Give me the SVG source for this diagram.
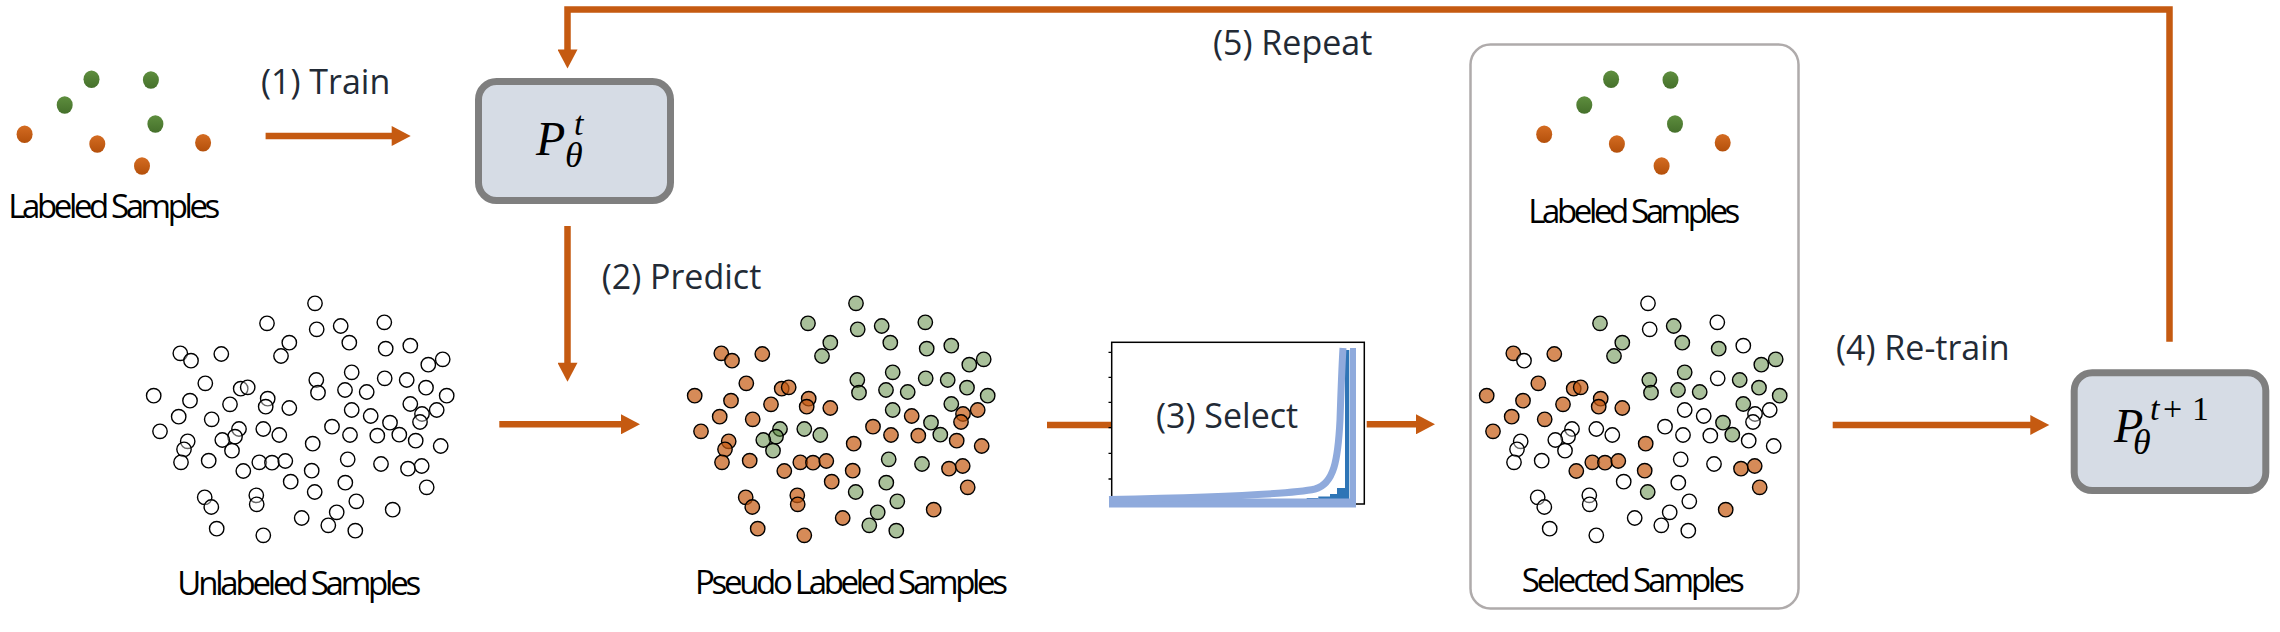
<svg xmlns="http://www.w3.org/2000/svg" width="2280" height="632" viewBox="0 0 2280 632">
<style>
.u{fill:#fff;fill-opacity:.4;stroke:#000;stroke-width:1.4}
.o{fill:#C55A11;fill-opacity:.7;stroke:#000;stroke-width:1.4}
.g{fill:#548235;fill-opacity:.5;stroke:#000;stroke-width:1.4}
.do{fill:url(#gro)}
.dg{fill:url(#grg)}
.lbl{font-family:"Open Sans","Liberation Sans",sans-serif;font-size:34px;fill:#222A35}
.cap{font-family:"Open Sans","Liberation Sans",sans-serif;font-size:33px;fill:#000}
.math{font-family:"Liberation Serif","DejaVu Serif",serif;fill:#000}
.it{font-style:italic}
.box{fill:#D6DCE5;stroke:#7F7F7F;stroke-width:7}
.conn{fill:none;stroke:#C55A11;stroke-width:6.5}
.lb{fill:none;stroke:#8FAADC}
</style>
<defs>
<linearGradient id="gro" x1="0" y1="0" x2="0" y2="1"><stop offset="0" stop-color="#D46C22"/><stop offset="1" stop-color="#B4500B"/></linearGradient>
<linearGradient id="grg" x1="0" y1="0" x2="0" y2="1"><stop offset="0" stop-color="#5E8E3E"/><stop offset="1" stop-color="#45702B"/></linearGradient>
<marker id="ah" markerUnits="userSpaceOnUse" markerWidth="20" markerHeight="20" viewBox="0 0 19 20" refX="1" refY="10" orient="auto"><path d="M0,0 L19,10 L0,20 z" fill="#C55A11"/></marker>
<g id="dots">
<ellipse class="dg" cx="91.5" cy="79.3" rx="8" ry="8.8"/>
<ellipse class="dg" cx="150.9" cy="80" rx="8" ry="8.8"/>
<ellipse class="dg" cx="64.7" cy="105" rx="8" ry="8.8"/>
<ellipse class="dg" cx="155.4" cy="124" rx="8" ry="8.8"/>
<ellipse class="do" cx="24.6" cy="134.3" rx="8" ry="8.8"/>
<ellipse class="do" cx="97.3" cy="144" rx="8" ry="8.8"/>
<ellipse class="do" cx="142" cy="166" rx="8" ry="8.8"/>
<ellipse class="do" cx="203.1" cy="142.7" rx="8" ry="8.8"/>
</g>
</defs>
<rect width="2280" height="632" fill="#fff"/>

<g id="connectors">
<path class="conn" d="M265.6,136 H392.7" marker-end="url(#ah)"/>
<path class="conn" d="M2169.5,341.7 V9.5 H567.5 V50.5" marker-end="url(#ah)"/>
<path class="conn" d="M567.5,226 V363.7" marker-end="url(#ah)"/>
<path class="conn" d="M499.3,424.3 H622" marker-end="url(#ah)"/>
<path class="conn" d="M1047,425 H1111"/>
<path class="conn" d="M1366.7,424.3 H1417" marker-end="url(#ah)"/>
<path class="conn" d="M1832.7,425 H2031.3" marker-end="url(#ah)"/>
</g>

<g id="edge-labels">
<text class="lbl" x="261" y="94.3">(1) Train</text>
<text class="lbl" x="601.7" y="289.3">(2) Predict</text>
<text class="lbl" x="1836" y="360">(4) Re-train</text>
<text class="lbl" x="1213" y="55">(5) Repeat</text>
</g>

<g id="labeled-samples">
<use href="#dots"/>
<text class="cap" x="8.3" y="217.7" textLength="212">Labeled Samples</text>
</g>

<g id="model-t">
<rect class="box" x="478.5" y="81.5" width="192" height="119" rx="18"/>
<text class="math it" x="536" y="155" font-size="48">P<tspan x="574" y="135" font-size="34">t</tspan><tspan x="565" y="167" font-size="36">θ</tspan></text>
</g>

<g id="unlabeled-samples">
<g id="pts">
<circle class="u" cx="315.0" cy="303.3" r="7.2"/>
<circle class="u" cx="267.0" cy="323.3" r="7.2"/>
<circle class="u" cx="316.7" cy="329.3" r="7.2"/>
<circle class="u" cx="340.7" cy="326.0" r="7.2"/>
<circle class="u" cx="384.3" cy="322.3" r="7.2"/>
<circle class="u" cx="289.3" cy="342.7" r="7.2"/>
<circle class="u" cx="281.0" cy="356.0" r="7.2"/>
<circle class="u" cx="349.3" cy="342.7" r="7.2"/>
<circle class="u" cx="385.7" cy="348.7" r="7.2"/>
<circle class="u" cx="410.3" cy="345.7" r="7.2"/>
<circle class="u" cx="180.3" cy="353.3" r="7.2"/>
<circle class="u" cx="191.0" cy="360.7" r="7.2"/>
<circle class="u" cx="221.3" cy="354.0" r="7.2"/>
<circle class="u" cx="428.3" cy="364.7" r="7.2"/>
<circle class="u" cx="442.7" cy="359.3" r="7.2"/>
<circle class="u" cx="205.3" cy="383.3" r="7.2"/>
<circle class="u" cx="316.3" cy="380.0" r="7.2"/>
<circle class="u" cx="318.0" cy="392.7" r="7.2"/>
<circle class="u" cx="351.7" cy="372.3" r="7.2"/>
<circle class="u" cx="384.7" cy="378.3" r="7.2"/>
<circle class="u" cx="406.7" cy="380.0" r="7.2"/>
<circle class="u" cx="426.0" cy="387.7" r="7.2"/>
<circle class="u" cx="446.7" cy="395.7" r="7.2"/>
<circle class="u" cx="153.7" cy="395.7" r="7.2"/>
<circle class="u" cx="190.0" cy="400.7" r="7.2"/>
<circle class="u" cx="240.7" cy="388.7" r="7.2"/>
<circle class="u" cx="247.7" cy="387.3" r="7.2"/>
<circle class="u" cx="267.7" cy="398.7" r="7.2"/>
<circle class="u" cx="265.7" cy="406.7" r="7.2"/>
<circle class="u" cx="230.0" cy="404.3" r="7.2"/>
<circle class="u" cx="289.3" cy="408.0" r="7.2"/>
<circle class="u" cx="345.0" cy="390.0" r="7.2"/>
<circle class="u" cx="366.7" cy="392.0" r="7.2"/>
<circle class="u" cx="410.3" cy="404.0" r="7.2"/>
<circle class="u" cx="436.7" cy="410.0" r="7.2"/>
<circle class="u" cx="422.0" cy="414.0" r="7.2"/>
<circle class="u" cx="420.0" cy="422.0" r="7.2"/>
<circle class="u" cx="178.7" cy="416.7" r="7.2"/>
<circle class="u" cx="211.7" cy="419.3" r="7.2"/>
<circle class="u" cx="351.7" cy="410.0" r="7.2"/>
<circle class="u" cx="370.7" cy="416.0" r="7.2"/>
<circle class="u" cx="390.0" cy="422.7" r="7.2"/>
<circle class="u" cx="160.0" cy="431.3" r="7.2"/>
<circle class="u" cx="239.0" cy="429.0" r="7.2"/>
<circle class="u" cx="235.0" cy="436.7" r="7.2"/>
<circle class="u" cx="222.3" cy="440.0" r="7.2"/>
<circle class="u" cx="232.0" cy="450.7" r="7.2"/>
<circle class="u" cx="263.3" cy="429.0" r="7.2"/>
<circle class="u" cx="279.3" cy="435.0" r="7.2"/>
<circle class="u" cx="332.0" cy="426.7" r="7.2"/>
<circle class="u" cx="350.0" cy="435.0" r="7.2"/>
<circle class="u" cx="377.3" cy="435.7" r="7.2"/>
<circle class="u" cx="399.3" cy="434.7" r="7.2"/>
<circle class="u" cx="415.7" cy="440.7" r="7.2"/>
<circle class="u" cx="187.7" cy="441.3" r="7.2"/>
<circle class="u" cx="184.0" cy="449.3" r="7.2"/>
<circle class="u" cx="181.0" cy="462.3" r="7.2"/>
<circle class="u" cx="208.7" cy="460.7" r="7.2"/>
<circle class="u" cx="243.3" cy="471.0" r="7.2"/>
<circle class="u" cx="259.3" cy="462.3" r="7.2"/>
<circle class="u" cx="272.0" cy="462.7" r="7.2"/>
<circle class="u" cx="285.3" cy="461.0" r="7.2"/>
<circle class="u" cx="312.7" cy="443.7" r="7.2"/>
<circle class="u" cx="347.7" cy="459.3" r="7.2"/>
<circle class="u" cx="381.0" cy="464.0" r="7.2"/>
<circle class="u" cx="408.0" cy="468.7" r="7.2"/>
<circle class="u" cx="421.7" cy="466.0" r="7.2"/>
<circle class="u" cx="440.7" cy="446.0" r="7.2"/>
<circle class="u" cx="311.7" cy="470.7" r="7.2"/>
<circle class="u" cx="290.7" cy="481.7" r="7.2"/>
<circle class="u" cx="314.7" cy="492.0" r="7.2"/>
<circle class="u" cx="345.3" cy="482.7" r="7.2"/>
<circle class="u" cx="426.7" cy="487.3" r="7.2"/>
<circle class="u" cx="204.7" cy="497.3" r="7.2"/>
<circle class="u" cx="211.3" cy="507.0" r="7.2"/>
<circle class="u" cx="256.3" cy="495.3" r="7.2"/>
<circle class="u" cx="256.7" cy="504.3" r="7.2"/>
<circle class="u" cx="356.3" cy="501.3" r="7.2"/>
<circle class="u" cx="336.7" cy="512.3" r="7.2"/>
<circle class="u" cx="328.3" cy="525.3" r="7.2"/>
<circle class="u" cx="301.7" cy="518.0" r="7.2"/>
<circle class="u" cx="392.7" cy="509.7" r="7.2"/>
<circle class="u" cx="216.7" cy="528.7" r="7.2"/>
<circle class="u" cx="263.3" cy="535.3" r="7.2"/>
<circle class="u" cx="355.3" cy="530.7" r="7.2"/>
</g>
<text class="cap" x="177.3" y="595" textLength="244">Unlabeled Samples</text>
</g>

<g id="pseudo-labeled-samples">
<g transform="translate(541,0)">
<circle class="g" cx="315.0" cy="303.3" r="7.2"/>
<circle class="g" cx="267.0" cy="323.3" r="7.2"/>
<circle class="g" cx="316.7" cy="329.3" r="7.2"/>
<circle class="g" cx="340.7" cy="326.0" r="7.2"/>
<circle class="g" cx="384.3" cy="322.3" r="7.2"/>
<circle class="g" cx="289.3" cy="342.7" r="7.2"/>
<circle class="g" cx="281.0" cy="356.0" r="7.2"/>
<circle class="g" cx="349.3" cy="342.7" r="7.2"/>
<circle class="g" cx="385.7" cy="348.7" r="7.2"/>
<circle class="g" cx="410.3" cy="345.7" r="7.2"/>
<circle class="o" cx="180.3" cy="353.3" r="7.2"/>
<circle class="o" cx="191.0" cy="360.7" r="7.2"/>
<circle class="o" cx="221.3" cy="354.0" r="7.2"/>
<circle class="g" cx="428.3" cy="364.7" r="7.2"/>
<circle class="g" cx="442.7" cy="359.3" r="7.2"/>
<circle class="o" cx="205.3" cy="383.3" r="7.2"/>
<circle class="g" cx="316.3" cy="380.0" r="7.2"/>
<circle class="g" cx="318.0" cy="392.7" r="7.2"/>
<circle class="g" cx="351.7" cy="372.3" r="7.2"/>
<circle class="g" cx="384.7" cy="378.3" r="7.2"/>
<circle class="g" cx="406.7" cy="380.0" r="7.2"/>
<circle class="g" cx="426.0" cy="387.7" r="7.2"/>
<circle class="g" cx="446.7" cy="395.7" r="7.2"/>
<circle class="o" cx="153.7" cy="395.7" r="7.2"/>
<circle class="o" cx="190.0" cy="400.7" r="7.2"/>
<circle class="o" cx="240.7" cy="388.7" r="7.2"/>
<circle class="o" cx="247.7" cy="387.3" r="7.2"/>
<circle class="o" cx="267.7" cy="398.7" r="7.2"/>
<circle class="o" cx="265.7" cy="406.7" r="7.2"/>
<circle class="o" cx="230.0" cy="404.3" r="7.2"/>
<circle class="o" cx="289.3" cy="408.0" r="7.2"/>
<circle class="g" cx="345.0" cy="390.0" r="7.2"/>
<circle class="g" cx="366.7" cy="392.0" r="7.2"/>
<circle class="g" cx="410.3" cy="404.0" r="7.2"/>
<circle class="o" cx="436.7" cy="410.0" r="7.2"/>
<circle class="o" cx="422.0" cy="414.0" r="7.2"/>
<circle class="o" cx="420.0" cy="422.0" r="7.2"/>
<circle class="o" cx="178.7" cy="416.7" r="7.2"/>
<circle class="o" cx="211.7" cy="419.3" r="7.2"/>
<circle class="g" cx="351.7" cy="410.0" r="7.2"/>
<circle class="o" cx="370.7" cy="416.0" r="7.2"/>
<circle class="g" cx="390.0" cy="422.7" r="7.2"/>
<circle class="o" cx="160.0" cy="431.3" r="7.2"/>
<circle class="g" cx="239.0" cy="429.0" r="7.2"/>
<circle class="g" cx="235.0" cy="436.7" r="7.2"/>
<circle class="g" cx="222.3" cy="440.0" r="7.2"/>
<circle class="g" cx="232.0" cy="450.7" r="7.2"/>
<circle class="g" cx="263.3" cy="429.0" r="7.2"/>
<circle class="g" cx="279.3" cy="435.0" r="7.2"/>
<circle class="o" cx="332.0" cy="426.7" r="7.2"/>
<circle class="o" cx="350.0" cy="435.0" r="7.2"/>
<circle class="o" cx="377.3" cy="435.7" r="7.2"/>
<circle class="g" cx="399.3" cy="434.7" r="7.2"/>
<circle class="o" cx="415.7" cy="440.7" r="7.2"/>
<circle class="o" cx="187.7" cy="441.3" r="7.2"/>
<circle class="o" cx="184.0" cy="449.3" r="7.2"/>
<circle class="o" cx="181.0" cy="462.3" r="7.2"/>
<circle class="o" cx="208.7" cy="460.7" r="7.2"/>
<circle class="o" cx="243.3" cy="471.0" r="7.2"/>
<circle class="o" cx="259.3" cy="462.3" r="7.2"/>
<circle class="o" cx="272.0" cy="462.7" r="7.2"/>
<circle class="o" cx="285.3" cy="461.0" r="7.2"/>
<circle class="o" cx="312.7" cy="443.7" r="7.2"/>
<circle class="g" cx="347.7" cy="459.3" r="7.2"/>
<circle class="g" cx="381.0" cy="464.0" r="7.2"/>
<circle class="o" cx="408.0" cy="468.7" r="7.2"/>
<circle class="o" cx="421.7" cy="466.0" r="7.2"/>
<circle class="o" cx="440.7" cy="446.0" r="7.2"/>
<circle class="o" cx="311.7" cy="470.7" r="7.2"/>
<circle class="o" cx="290.7" cy="481.7" r="7.2"/>
<circle class="g" cx="314.7" cy="492.0" r="7.2"/>
<circle class="g" cx="345.3" cy="482.7" r="7.2"/>
<circle class="o" cx="426.7" cy="487.3" r="7.2"/>
<circle class="o" cx="204.7" cy="497.3" r="7.2"/>
<circle class="o" cx="211.3" cy="507.0" r="7.2"/>
<circle class="o" cx="256.3" cy="495.3" r="7.2"/>
<circle class="o" cx="256.7" cy="504.3" r="7.2"/>
<circle class="g" cx="356.3" cy="501.3" r="7.2"/>
<circle class="g" cx="336.7" cy="512.3" r="7.2"/>
<circle class="g" cx="328.3" cy="525.3" r="7.2"/>
<circle class="o" cx="301.7" cy="518.0" r="7.2"/>
<circle class="o" cx="392.7" cy="509.7" r="7.2"/>
<circle class="o" cx="216.7" cy="528.7" r="7.2"/>
<circle class="o" cx="263.3" cy="535.3" r="7.2"/>
<circle class="g" cx="355.3" cy="530.7" r="7.2"/>
</g>
<text class="cap" x="695" y="594" textLength="313">Pseudo Labeled Samples</text>
</g>

<g id="select-chart">
<rect x="1111.7" y="342.3" width="252.6" height="161.7" fill="#fff" stroke="#000" stroke-width="1.5"/>
<path d="M1108.5,352.3 H1111.7 M1108.5,377.3 H1111.7 M1108.5,402.3 H1111.7 M1108.5,427.7 H1111.7 M1108.5,453.3 H1111.7 M1108.5,479 H1111.7" stroke="#000" stroke-width="1.3"/>
<g fill="#2E75B6">
<rect x="1295" y="499" width="12" height="4"/>
<rect x="1306.7" y="498" width="11.6" height="5"/>
<rect x="1318.3" y="496.5" width="11.7" height="6.5"/>
<rect x="1330" y="494" width="7.3" height="9"/>
<rect x="1337" y="488" width="8" height="15"/>
<rect x="1345" y="350" width="4.3" height="153"/>
</g>
<path class="lb" d="M1109,503 H1356" stroke-width="9"/>
<path class="lb" d="M1109,499.5 C1230,497 1295,493.5 1315,489 C1334,484 1338,460 1340,420 C1341,390 1342,365 1343,348" stroke-width="7"/>
<path class="lb" d="M1353,348 V507" stroke-width="6"/>
<text class="lbl" x="1156" y="427.7">(3) Select</text>
</g>

<g id="selected-box">
<rect x="1470.5" y="44.5" width="328" height="564" rx="20" fill="#fff" stroke="#AFABAB" stroke-width="2.5"/>
<g id="labeled-samples-2">
<use href="#dots" transform="translate(1519.6,0)"/>
<text class="cap" x="1528.3" y="222.7" textLength="212">Labeled Samples</text>
</g>
<g id="selected-samples">
<g transform="translate(1333,0)">
<circle class="u" cx="315.0" cy="303.3" r="7.2"/>
<circle class="g" cx="267.0" cy="323.3" r="7.2"/>
<circle class="u" cx="316.7" cy="329.3" r="7.2"/>
<circle class="g" cx="340.7" cy="326.0" r="7.2"/>
<circle class="u" cx="384.3" cy="322.3" r="7.2"/>
<circle class="g" cx="289.3" cy="342.7" r="7.2"/>
<circle class="g" cx="281.0" cy="356.0" r="7.2"/>
<circle class="g" cx="349.3" cy="342.7" r="7.2"/>
<circle class="g" cx="385.7" cy="348.7" r="7.2"/>
<circle class="u" cx="410.3" cy="345.7" r="7.2"/>
<circle class="o" cx="180.3" cy="353.3" r="7.2"/>
<circle class="u" cx="191.0" cy="360.7" r="7.2"/>
<circle class="o" cx="221.3" cy="354.0" r="7.2"/>
<circle class="g" cx="428.3" cy="364.7" r="7.2"/>
<circle class="g" cx="442.7" cy="359.3" r="7.2"/>
<circle class="o" cx="205.3" cy="383.3" r="7.2"/>
<circle class="g" cx="316.3" cy="380.0" r="7.2"/>
<circle class="g" cx="318.0" cy="392.7" r="7.2"/>
<circle class="g" cx="351.7" cy="372.3" r="7.2"/>
<circle class="u" cx="384.7" cy="378.3" r="7.2"/>
<circle class="g" cx="406.7" cy="380.0" r="7.2"/>
<circle class="g" cx="426.0" cy="387.7" r="7.2"/>
<circle class="g" cx="446.7" cy="395.7" r="7.2"/>
<circle class="o" cx="153.7" cy="395.7" r="7.2"/>
<circle class="o" cx="190.0" cy="400.7" r="7.2"/>
<circle class="o" cx="240.7" cy="388.7" r="7.2"/>
<circle class="o" cx="247.7" cy="387.3" r="7.2"/>
<circle class="o" cx="267.7" cy="398.7" r="7.2"/>
<circle class="o" cx="265.7" cy="406.7" r="7.2"/>
<circle class="o" cx="230.0" cy="404.3" r="7.2"/>
<circle class="o" cx="289.3" cy="408.0" r="7.2"/>
<circle class="g" cx="345.0" cy="390.0" r="7.2"/>
<circle class="g" cx="366.7" cy="392.0" r="7.2"/>
<circle class="g" cx="410.3" cy="404.0" r="7.2"/>
<circle class="u" cx="436.7" cy="410.0" r="7.2"/>
<circle class="u" cx="422.0" cy="414.0" r="7.2"/>
<circle class="u" cx="420.0" cy="422.0" r="7.2"/>
<circle class="o" cx="178.7" cy="416.7" r="7.2"/>
<circle class="o" cx="211.7" cy="419.3" r="7.2"/>
<circle class="u" cx="351.7" cy="410.0" r="7.2"/>
<circle class="u" cx="370.7" cy="416.0" r="7.2"/>
<circle class="g" cx="390.0" cy="422.7" r="7.2"/>
<circle class="o" cx="160.0" cy="431.3" r="7.2"/>
<circle class="u" cx="239.0" cy="429.0" r="7.2"/>
<circle class="u" cx="235.0" cy="436.7" r="7.2"/>
<circle class="u" cx="222.3" cy="440.0" r="7.2"/>
<circle class="u" cx="232.0" cy="450.7" r="7.2"/>
<circle class="u" cx="263.3" cy="429.0" r="7.2"/>
<circle class="u" cx="279.3" cy="435.0" r="7.2"/>
<circle class="u" cx="332.0" cy="426.7" r="7.2"/>
<circle class="u" cx="350.0" cy="435.0" r="7.2"/>
<circle class="u" cx="377.3" cy="435.7" r="7.2"/>
<circle class="g" cx="399.3" cy="434.7" r="7.2"/>
<circle class="u" cx="415.7" cy="440.7" r="7.2"/>
<circle class="u" cx="187.7" cy="441.3" r="7.2"/>
<circle class="u" cx="184.0" cy="449.3" r="7.2"/>
<circle class="u" cx="181.0" cy="462.3" r="7.2"/>
<circle class="u" cx="208.7" cy="460.7" r="7.2"/>
<circle class="o" cx="243.3" cy="471.0" r="7.2"/>
<circle class="o" cx="259.3" cy="462.3" r="7.2"/>
<circle class="o" cx="272.0" cy="462.7" r="7.2"/>
<circle class="o" cx="285.3" cy="461.0" r="7.2"/>
<circle class="o" cx="312.7" cy="443.7" r="7.2"/>
<circle class="u" cx="347.7" cy="459.3" r="7.2"/>
<circle class="u" cx="381.0" cy="464.0" r="7.2"/>
<circle class="o" cx="408.0" cy="468.7" r="7.2"/>
<circle class="o" cx="421.7" cy="466.0" r="7.2"/>
<circle class="u" cx="440.7" cy="446.0" r="7.2"/>
<circle class="o" cx="311.7" cy="470.7" r="7.2"/>
<circle class="u" cx="290.7" cy="481.7" r="7.2"/>
<circle class="g" cx="314.7" cy="492.0" r="7.2"/>
<circle class="u" cx="345.3" cy="482.7" r="7.2"/>
<circle class="o" cx="426.7" cy="487.3" r="7.2"/>
<circle class="u" cx="204.7" cy="497.3" r="7.2"/>
<circle class="u" cx="211.3" cy="507.0" r="7.2"/>
<circle class="u" cx="256.3" cy="495.3" r="7.2"/>
<circle class="u" cx="256.7" cy="504.3" r="7.2"/>
<circle class="u" cx="356.3" cy="501.3" r="7.2"/>
<circle class="u" cx="336.7" cy="512.3" r="7.2"/>
<circle class="u" cx="328.3" cy="525.3" r="7.2"/>
<circle class="u" cx="301.7" cy="518.0" r="7.2"/>
<circle class="o" cx="392.7" cy="509.7" r="7.2"/>
<circle class="u" cx="216.7" cy="528.7" r="7.2"/>
<circle class="u" cx="263.3" cy="535.3" r="7.2"/>
<circle class="u" cx="355.3" cy="530.7" r="7.2"/>
</g>
<text class="cap" x="1521.7" y="591.7" textLength="223">Selected Samples</text>
</g>
</g>

<g id="model-t1">
<rect class="box" x="2074.2" y="372.8" width="191.6" height="117.7" rx="18"/>
<text class="math it" x="2114" y="441.7" font-size="48">P<tspan x="2150" y="420" font-size="34">t</tspan><tspan x="2163" font-size="34" font-style="normal">+</tspan><tspan x="2192" font-size="34" font-style="normal">1</tspan><tspan x="2133" y="454" font-size="36">θ</tspan></text>
</g>
</svg>
